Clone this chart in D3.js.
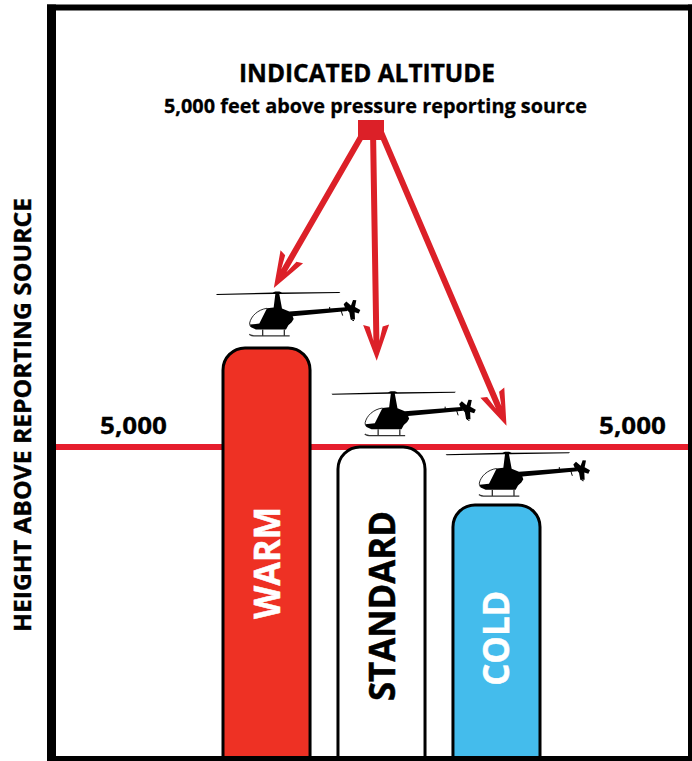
<!DOCTYPE html>
<html>
<head>
<meta charset="utf-8">
<script src="https://cdn.jsdelivr.net/npm/d3@7"></script>
<style>
  html, body { margin: 0; padding: 0; background: #fff; }
  text { font-family: "Open Sans", sans-serif; font-weight: 700; }
</style>
</head>
<body>
<svg id="chart" width="692" height="761" style="display:block"></svg>
<script>
const categories = ["WARM", "STANDARD", "COLD"];
const heights = [6597, 5000, 4065];
const barColors = ["#ee3124", "#ffffff", "#44bcec"];
const labelColors = ["#ffffff", "#000000", "#ffffff"];
const labelHeights = [3130, 2435, 1915];
const labelLengths = [112, 190, 95];
// arrows: altitude of the tip and sideways offset from the bar centre
const arrowTips = [7565, 6392, 5344];
const arrowOffsets = [7.3, -4.8, 10];
const reference = 5000;
const referenceLabel = "5,000";

const red = "#dc2028";
const lineRed = "#e61e2d";

const svg = d3.select("#chart");

const x = d3.scaleBand().domain(categories).range([223, 540]).paddingInner(0.243);
const y = d3.scaleLinear().domain([0, reference]).range([757, 447]);

// reference line
svg.append("line")
  .attr("x1", 56).attr("x2", 688)
  .attr("y1", y(reference)).attr("y2", y(reference))
  .attr("stroke", lineRed).attr("stroke-width", 6);

// bars with rounded tops
const barPath = (c, i) => {
  const p = d3.path();
  const x0 = x(c), x1 = x(c) + x.bandwidth(), top = y(heights[i]), r = 22;
  p.moveTo(x0, y(0) + 1);
  p.lineTo(x0, top + r);
  p.arcTo(x0, top, x0 + r, top, r);
  p.lineTo(x1 - r, top);
  p.arcTo(x1, top, x1, top + r, r);
  p.lineTo(x1, y(0) + 1);
  return p.toString();
};

svg.append("g").selectAll("path")
  .data(categories)
  .join("path")
  .attr("d", barPath)
  .attr("fill", (d, i) => barColors[i])
  .attr("stroke", "#000")
  .attr("stroke-width", 3);

// frame
const frame = [[47, 4.5, 645, 6], [47, 756, 645, 5], [47, 4.5, 9, 756.5], [688, 4.5, 4, 756.5]];
svg.append("g").selectAll("rect")
  .data(frame)
  .join("rect")
  .attr("x", d => d[0]).attr("y", d => d[1])
  .attr("width", d => d[2]).attr("height", d => d[3])
  .attr("fill", "#000");

// bar labels
svg.append("g").selectAll("text")
  .data(categories)
  .join("text")
  .attr("transform", (d, i) => `translate(${x(d) + x.bandwidth() / 2 + 13},${y(labelHeights[i])}) rotate(-90)`)
  .attr("text-anchor", "middle")
  .attr("font-size", 36)
  .attr("textLength", (d, i) => labelLengths[i])
  .attr("lengthAdjust", "spacingAndGlyphs")
  .attr("fill", (d, i) => labelColors[i])
  .attr("stroke", (d, i) => labelColors[i])
  .attr("stroke-width", 0.5)
  .text(d => d);

// helicopters, drawn at 3x around the left rotor tip
const heliBody = "M5 311 L175 307 L183 304 L195 304 L203 307 L378 305 L375 308 L200 311 L180 311 L8 314 Z " +
  "M183 311 L195 311 L203 355 L225 364 L395 351 L400 362 L235 378 L238 386 L232 396 L222 405 L215 418 " +
  "L125 418 L110 411 L107 403 L135 400 L158 354 L178 352 Z";
const heliTail = "M388 342 L396 334 L410 346 L416 329 L426 330 L422 350 L438 359 L433 370 L421 366 L422 388 L409 388 L405 367 L393 354 Z";
const heliLines = "M380 360 L385 376 M346 350 L346 358 M411 386 Q414 392 419 391";
const heliOutline = "M158 354 C130 358 110 378 106 398 C106 404 107 406 110 410";
const heliSkid = "M105 432 C110 437 115 437 125 437 L226 437 M145 418 L145 437 M210 418 L210 437";
const heliLeft = [-7, -6.5, -7.3];
const heliTop = [-53.7, -53, -50.5];

const heli = svg.append("g").selectAll("g")
  .data(categories)
  .join("g")
  .attr("transform", (d, i) => `translate(${x(d) + heliLeft[i]},${y(heights[i]) + heliTop[i]}) scale(${1 / 3}) translate(-5,-312)`);

heli.append("path").attr("d", heliBody).attr("fill", "#000");
heli.append("path").attr("d", heliTail).attr("fill", "#000");
heli.append("path").attr("d", heliLines).attr("fill", "none").attr("stroke", "#000").attr("stroke-width", 3);
heli.append("path").attr("d", heliOutline).attr("fill", "none").attr("stroke", "#000").attr("stroke-width", 2.5);
heli.append("path").attr("d", heliSkid).attr("fill", "none").attr("stroke", "#333").attr("stroke-width", 4);

// arrows from the indicated altitude marker
const source = { x: 371, y: 130 };
const sourceShift = [-6, 2, 9];

const arrows = svg.append("g").attr("fill", red);

categories.forEach((c, i) => {
  const tx = x(c) + x.bandwidth() / 2 + arrowOffsets[i];
  const ty = y(arrowTips[i]);
  const sx = source.x + sourceShift[i];
  const a = Math.atan2(ty - source.y, tx - sx) * 180 / Math.PI;
  const len = Math.hypot(tx - sx, ty - source.y);
  arrows.append("path")
    .attr("transform", `translate(${tx},${ty}) rotate(${a})`)
    .attr("d", `M0 0 L-36 13 L-34 6.5 L-20 3 L${-len} 3 L${-len} -3 L-20 -3 L-34 -6.5 L-36 -13 Z`);
});

svg.append("rect")
  .attr("x", 358).attr("y", 120)
  .attr("width", 26).attr("height", 20)
  .attr("fill", red);

// texts
svg.append("text")
  .attr("x", 367).attr("y", 82)
  .attr("text-anchor", "middle")
  .attr("font-size", 25)
  .attr("textLength", 256)
  .attr("lengthAdjust", "spacingAndGlyphs")
  .attr("stroke", "#000").attr("stroke-width", 0.4)
  .text("INDICATED ALTITUDE");

svg.append("text")
  .attr("x", 375.5).attr("y", 113)
  .attr("text-anchor", "middle")
  .attr("font-size", 20)
  .attr("textLength", 423)
  .attr("lengthAdjust", "spacingAndGlyphs")
  .attr("stroke", "#000").attr("stroke-width", 0.3)
  .text("5,000 feet above pressure reporting source");

svg.append("text")
  .attr("transform", "translate(31,415) rotate(-90)")
  .attr("text-anchor", "middle")
  .attr("font-size", 24)
  .attr("textLength", 434)
  .attr("lengthAdjust", "spacingAndGlyphs")
  .attr("stroke", "#000").attr("stroke-width", 0.4)
  .text("HEIGHT ABOVE REPORTING SOURCE");

svg.append("g").selectAll("text")
  .data([133.5, 632.5])
  .join("text")
  .attr("x", d => d)
  .attr("y", 434)
  .attr("text-anchor", "middle")
  .attr("font-size", 24)
  .attr("textLength", 67)
  .attr("lengthAdjust", "spacingAndGlyphs")
  .attr("stroke", "#000").attr("stroke-width", 0.3)
  .text(referenceLabel);
</script>
</body>
</html>
